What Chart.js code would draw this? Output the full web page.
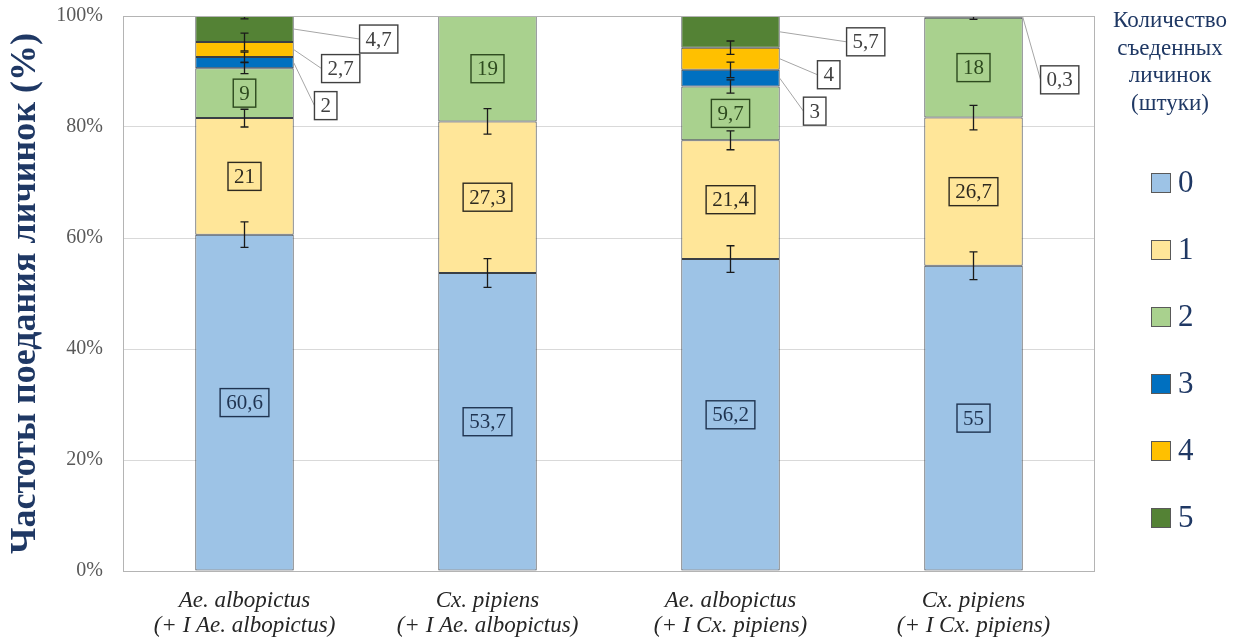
<!DOCTYPE html>
<html lang="ru">
<head>
<meta charset="utf-8">
<title>Частоты поедания личинок</title>
<script src="https://cdn.jsdelivr.net/npm/chart.js@4.4.1/dist/chart.umd.min.js"></script>
<style>
  html, body { margin: 0; padding: 0; background: #fff; }
  canvas { display: block; }
</style>
</head>
<body>
<canvas id="grafico" width="1242" height="644"></canvas>
<script>
// Данные: доли личинок (%) по числу съеденных, 4 варианта опыта

const categories = [
  ["Ae. albopictus", "(+ I Ae. albopictus)"],
  ["Cx. pipiens", "(+ I Ae. albopictus)"],
  ["Ae. albopictus", "(+ I Cx. pipiens)"],
  ["Cx. pipiens", "(+ I Cx. pipiens)"],
];
const seriesNames = ["0", "1", "2", "3", "4", "5"];

const eaten0 = [60.6, 53.7, 56.2, 55];
const eaten1 = [21, 27.3, 21.4, 26.7];
const eaten2 = [9, 19, 9.7, 18];
const eaten3 = [2, 0, 3, 0];
const eaten4 = [2.7, 0, 4, 0];
const eaten5 = [4.7, 0, 5.7, 0.3];

// ошибки (±, в %)
const err0 = [2.3, 2.6, 2.4, 2.5];
const err1 = [1.6, 2.3, 1.7, 2.2];
const err2 = [1.0, 0, 1.2, 0.3];
const err3 = [0.9, 0, 1.4, 0];
const err4 = [1.6, 0, 1.2, 0];
const err5 = [0.5, 0, 0, 0];

const yTicks = [0, 20, 40, 60, 80, 100];

const values = [eaten0, eaten1, eaten2, eaten3, eaten4, eaten5];
const errors = [err0, err1, err2, err3, err4, err5];

const colors = ["#9DC3E6", "#FFE699", "#A9D18E", "#0070C0", "#FFC000", "#548235"];
const insideText = ["#1F3350", "#2E2A20", "#2D4A1E"];
const navy = "#1F3864";
const serif = '"Liberation Serif", "Times New Roman", serif';

// выноски для мелких сегментов: смещение рамки от правого края столбика
const callouts = {
  "3-0": [32, 43], "4-0": [47, 19], "5-0": [85, 10],
  "3-2": [35, 33], "4-2": [49, 16], "5-2": [86, 10],
  "5-3": [37, 63],
};

function fmt(v) {
  return String(v).replace(".", ",");
}

function stackTop(di, i) {
  let s = 0;
  for (let k = 0; k <= di; k++) s += values[k][i];
  return s;
}

function labelWidth(ctx, text) {
  ctx.font = "21px " + serif;
  return ctx.measureText(text).width + 12;
}

function drawBox(ctx, text, cx, cy, color, fill) {
  const w = labelWidth(ctx, text);
  const h = 28;
  if (fill) {
    ctx.fillStyle = fill;
    ctx.fillRect(cx - w / 2, cy - h / 2, w, h);
  }
  ctx.strokeStyle = color;
  ctx.lineWidth = 1.4;
  ctx.strokeRect(cx - w / 2, cy - h / 2, w, h);
  ctx.fillStyle = color;
  ctx.textAlign = "center";
  ctx.textBaseline = "middle";
  ctx.fillText(text, cx, cy + 1);
}

const marksPlugin = {
  id: "marks",
  afterDatasetsDraw(chart) {
    const ctx = chart.ctx;
    const yScale = chart.scales.y;
    const area = chart.chartArea;

    // подписи значений
    ctx.save();
    chart.data.datasets.forEach((ds, di) => {
      chart.getDatasetMeta(di).data.forEach((bar, i) => {
        const v = values[di][i];
        if (!v) return;
        const midY = (bar.y + bar.base) / 2;
        if (v >= 8) {
          drawBox(ctx, fmt(v), bar.x, midY, insideText[di], null);
          return;
        }
        const off = callouts[di + "-" + i];
        if (!off) return;
        const right = bar.x + bar.width / 2;
        const w = labelWidth(ctx, fmt(v));
        const bx = right + off[0];
        const by = midY + off[1];
        ctx.strokeStyle = "#A6A6A6";
        ctx.lineWidth = 1;
        ctx.beginPath();
        ctx.moveTo(right, midY);
        ctx.lineTo(bx - w / 2, by);
        ctx.stroke();
        drawBox(ctx, fmt(v), bx, by, "#404040", "#FFFFFF");
      });
    });
    ctx.restore();

    // планки погрешностей
    ctx.save();
    ctx.beginPath();
    ctx.rect(area.left, area.top, area.right - area.left, area.bottom - area.top);
    ctx.clip();
    ctx.strokeStyle = "#1A1A1A";
    ctx.lineWidth = 1.3;
    chart.data.datasets.forEach((ds, di) => {
      chart.getDatasetMeta(di).data.forEach((bar, i) => {
        const e = errors[di][i];
        if (!e) return;
        const top = stackTop(di, i);
        const y1 = yScale.getPixelForValue(top + e);
        const y2 = yScale.getPixelForValue(top - e);
        ctx.beginPath();
        ctx.moveTo(bar.x, y1);
        ctx.lineTo(bar.x, y2);
        ctx.moveTo(bar.x - 4, y1);
        ctx.lineTo(bar.x + 4, y1);
        ctx.moveTo(bar.x - 4, y2);
        ctx.lineTo(bar.x + 4, y2);
        ctx.stroke();
      });
    });
    ctx.restore();

    // рамка области построения
    ctx.save();
    ctx.strokeStyle = "#B4B4B4";
    ctx.lineWidth = 1;
    ctx.strokeRect(area.left + 0.5, area.top + 0.5, area.right - area.left - 1, area.bottom - area.top);
    ctx.restore();
  },
  afterDraw(chart) {
    // легенда справа
    const ctx = chart.ctx;
    ctx.save();
    ctx.fillStyle = navy;
    ctx.textAlign = "center";
    ctx.textBaseline = "middle";
    ctx.font = "23px " + serif;
    ["Количество", "съеденных", "личинок", "(штуки)"].forEach((t, k) => {
      ctx.fillText(t, 1170, 21 + k * 27.5);
    });
    seriesNames.forEach((name, k) => {
      const cy = 183 + k * 67;
      ctx.fillStyle = colors[k];
      ctx.fillRect(1151, cy - 10, 20, 20);
      ctx.strokeStyle = "#595959";
      ctx.lineWidth = 1;
      ctx.strokeRect(1151.5, cy - 9.5, 19, 19);
      ctx.fillStyle = navy;
      ctx.textAlign = "left";
      ctx.font = "31px " + serif;
      ctx.fillText(name, 1178, cy + 1);
    });
    ctx.restore();
  },
};

const datasets = seriesNames.map((name, k) => ({
  label: name,
  data: values[k],
  backgroundColor: colors[k],
  borderColor: "#3A3F45",
  borderWidth: 1,
  borderSkipped: false,
  categoryPercentage: 1,
  barPercentage: 0.405,
}));

new Chart(document.getElementById("grafico"), {
  type: "bar",
  data: { labels: categories, datasets },
  plugins: [marksPlugin],
  options: {
    responsive: false,
    animation: false,
    layout: { padding: { top: 16, right: 147, left: 0, bottom: 0 } },
    plugins: {
      legend: { display: false },
      tooltip: { enabled: false },
    },
    scales: {
      x: {
        stacked: true,
        grid: { display: false, drawTicks: false },
        border: { display: false },
        ticks: {
          padding: 17,
          color: "#262626",
          font: { family: serif, size: 23, style: "italic", lineHeight: 1.1 },
        },
        afterFit: (s) => { s.height = 73; },
      },
      y: {
        stacked: true,
        min: 0,
        max: 100,
        afterBuildTicks: (s) => { s.ticks = yTicks.map((v) => ({ value: v })); },
        grid: { color: "#D9D9D9", drawTicks: true, tickLength: 20, tickColor: "rgba(0,0,0,0)" },
        border: { display: false },
        ticks: {
          padding: 0,
          color: "#595959",
          font: { family: serif, size: 20 },
          callback: (v) => v + "%",
        },
        title: {
          display: true,
          text: "Частоты поедания личинок (%)",
          color: navy,
          font: { family: serif, size: 36, weight: 700 },
          padding: { top: 4, bottom: 0 },
        },
        afterFit: (s) => { s.width = 123; },
      },
    },
  },
});
</script>
</body>
</html>
